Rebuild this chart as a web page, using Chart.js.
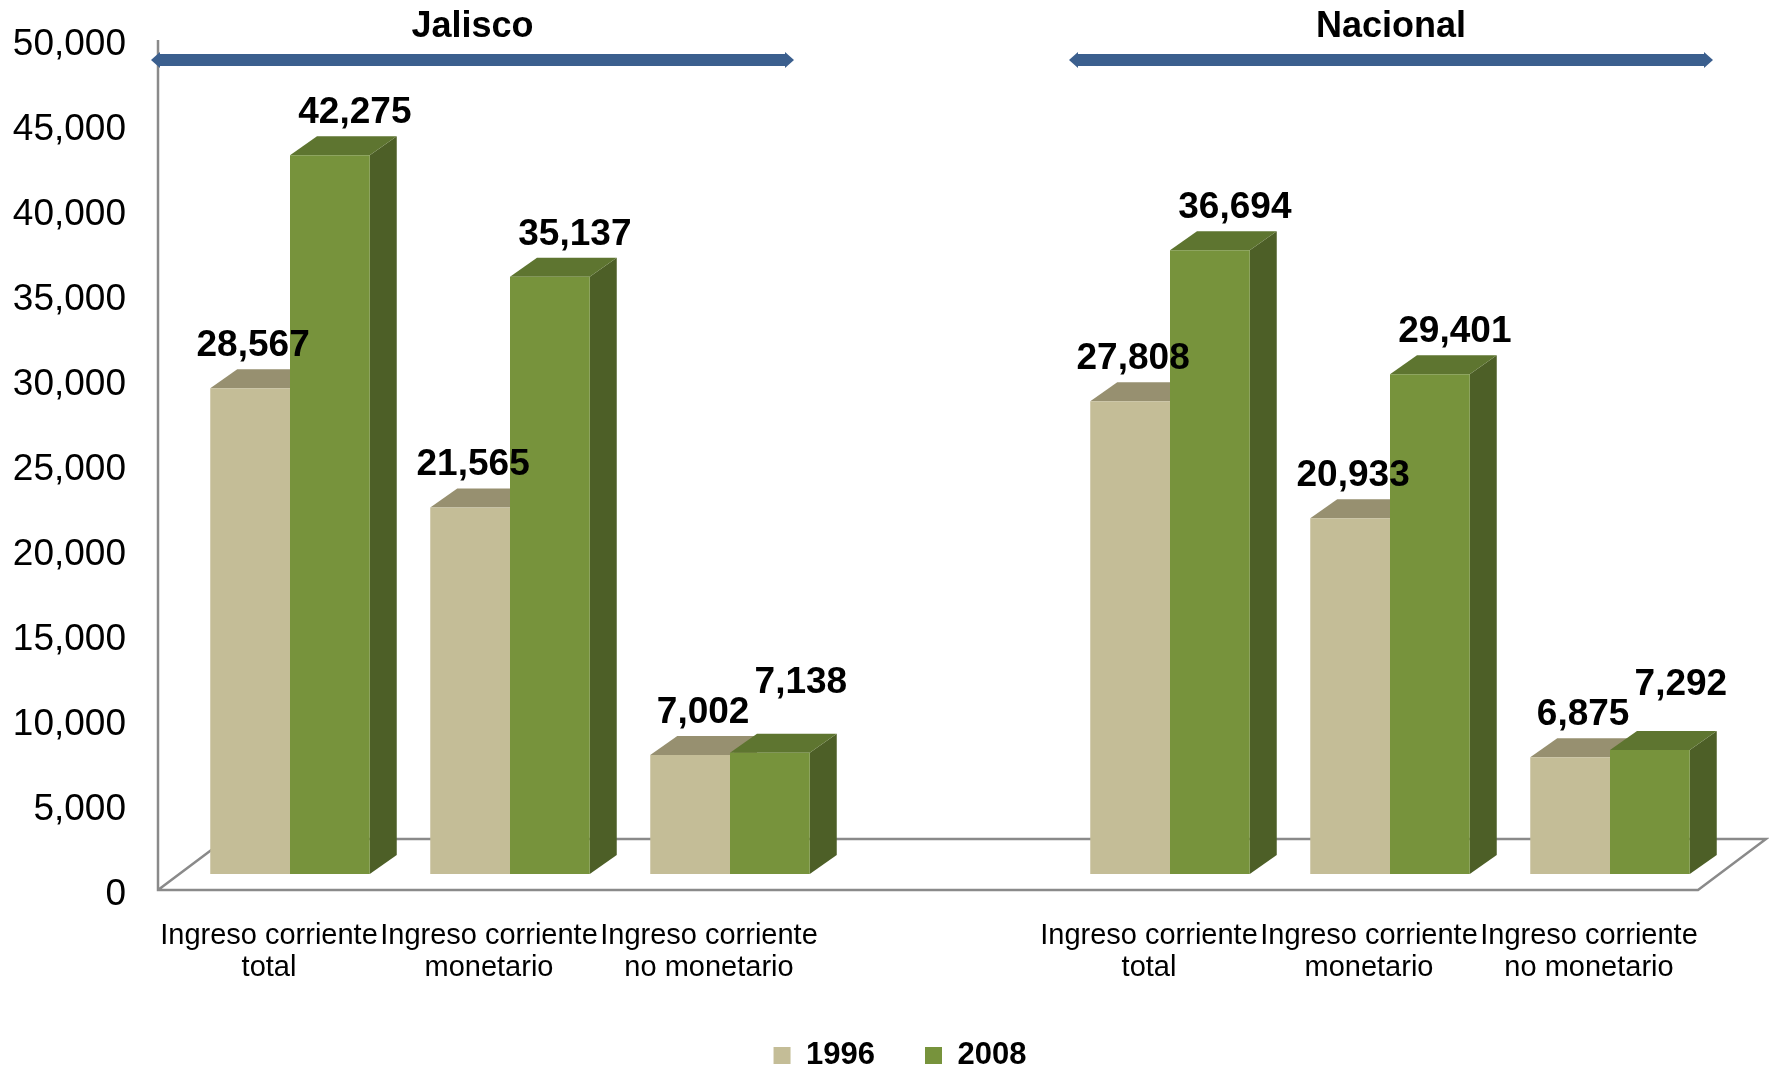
<!DOCTYPE html>
<html>
<head>
<meta charset="utf-8">
<script src="https://cdn.jsdelivr.net/npm/chart.js@4"></script>
<style>
  html, body { margin: 0; padding: 0; background: #fff; }
  #wrap { width: 1769px; height: 1068px; }
</style>
</head>
<body>
<div id="wrap"><canvas id="chart" width="1769" height="1068"></canvas></div>
<script>
// categories: three for Jalisco, an empty gap, three for Nacional
const categories = [
    ["Ingreso corriente", "total"],
    ["Ingreso corriente", "monetario"],
    ["Ingreso corriente", "no monetario"],
    "",
    ["Ingreso corriente", "total"],
    ["Ingreso corriente", "monetario"],
    ["Ingreso corriente", "no monetario"],
];
const values1996 = [28567, 21565, 7002, null, 27808, 20933, 6875];
const values2008 = [42275, 35137, 7138, null, 36694, 29401, 7292];
const yTicks = [0, 50000, 5000]; // min, max, step

const FONT = "'Liberation Sans', Arial, sans-serif";
const DX = 27, DY = -19; // depth of the 3d bars

function poly(ctx, pts) {
    ctx.beginPath();
    ctx.moveTo(pts[0][0], pts[0][1]);
    for (let i = 1; i < pts.length; i++) ctx.lineTo(pts[i][0], pts[i][1]);
    ctx.closePath();
    ctx.fill();
}

// floor, axis line, 3d faces, value labels and the two group headers
const bar3d = {
    id: "bar3d",
    afterLayout(chart) {
        // legend sits a bit right of the canvas centre in the original
        chart.legend.left += 40;
        chart.legend.right += 40;
    },
    beforeDatasetsDraw(chart) {
        const {ctx, chartArea: a} = chart;
        ctx.save();
        ctx.strokeStyle = "#8a8a8a";
        ctx.lineWidth = 2.5;
        const fx = a.left - 22, fy = a.bottom + 16;
        const fr = a.right - 22;
        ctx.beginPath();
        ctx.moveTo(fx, a.top + 16);
        ctx.lineTo(fx, fy);
        ctx.lineTo(fr, fy);
        ctx.lineTo(fr + 68, fy - 51);
        ctx.lineTo(fx + 68, fy - 51);
        ctx.lineTo(fx, fy);
        ctx.stroke();

        chart.data.datasets.forEach((ds, i) => {
            chart.getDatasetMeta(i).data.forEach((bar, j) => {
                if (ds.data[j] == null) return;
                const l = bar.x - bar.width / 2, r = bar.x + bar.width / 2;
                const t = bar.y, b = bar.base;
                ctx.fillStyle = ds.sideColor;
                poly(ctx, [[r, t], [r + DX, t + DY], [r + DX, b + DY], [r, b]]);
                ctx.fillStyle = ds.topColor;
                poly(ctx, [[l, t], [l + DX, t + DY], [r + DX, t + DY], [r, t]]);
            });
        });
        ctx.restore();
    },
    afterDatasetsDraw(chart) {
        const {ctx} = chart;
        ctx.save();
        ctx.font = "bold 37px " + FONT;
        ctx.fillStyle = "#000";
        ctx.textAlign = "center";
        ctx.textBaseline = "alphabetic";
        const m0 = chart.getDatasetMeta(0).data;
        const m1 = chart.getDatasetMeta(1).data;
        const ds0 = chart.data.datasets[0], ds1 = chart.data.datasets[1];
        m0.forEach((b0, j) => {
            const v0 = ds0.data[j], v1 = ds1.data[j];
            if (v0 == null) return;
            const b1 = m1[j];
            const t0 = v0.toLocaleString("en-US"), t1 = v1.toLocaleString("en-US");
            let x0 = b0.x + ds0.labelShift, y0 = b0.y + DY - 13;
            let x1 = b1.x + ds1.labelShift, y1 = b1.y + DY - 13;
            // push the second label up when the two would collide
            const gap = (x1 - ctx.measureText(t1).width / 2) - (x0 + ctx.measureText(t0).width / 2);
            if (gap < 30 && Math.abs(y0 - y1) < 36) {
                x0 += 10;
                x1 += 6;
                y1 = y0 - 30;
            }
            ctx.fillText(t0, x0, y0);
            ctx.fillText(t1, x1, y1);
        });
        ctx.restore();
    },
    afterDraw(chart) {
        const {ctx} = chart;
        const groups = [["Jalisco", 151, 794], ["Nacional", 1069, 1713]];
        ctx.save();
        groups.forEach(([name, x0, x1]) => {
            const y = 60;
            ctx.fillStyle = "#3b5f8e";
            ctx.beginPath();
            ctx.moveTo(x0, y);
            ctx.lineTo(x0 + 9, y - 8);
            ctx.lineTo(x0 + 9, y - 6);
            ctx.lineTo(x1 - 9, y - 6);
            ctx.lineTo(x1 - 9, y - 8);
            ctx.lineTo(x1, y);
            ctx.lineTo(x1 - 9, y + 8);
            ctx.lineTo(x1 - 9, y + 6);
            ctx.lineTo(x0 + 9, y + 6);
            ctx.lineTo(x0 + 9, y + 8);
            ctx.closePath();
            ctx.fill();
            ctx.fillStyle = "#000";
            ctx.font = "bold 36px " + FONT;
            ctx.textAlign = "center";
            ctx.textBaseline = "middle";
            ctx.fillText(name, (x0 + x1) / 2, 27);
        });
        ctx.restore();
    },
};

new Chart(document.getElementById("chart"), {
    type: "bar",
    data: {
        labels: categories,
        datasets: [
            {
                label: "1996",
                data: values1996,
                backgroundColor: "#c4bd97",
                topColor: "#979070",
                sideColor: "#8a8464",
                labelShift: 3,
                borderWidth: 0,
            },
            {
                label: "2008",
                data: values2008,
                backgroundColor: "#77933c",
                topColor: "#5e7530",
                sideColor: "#4d5f27",
                labelShift: 25,
                borderWidth: 0,
            },
        ],
    },
    options: {
        responsive: false,
        animation: false,
        layout: {
            padding: {top: 24, left: 0, right: 49, bottom: -13},
        },
        datasets: {
            bar: {categoryPercentage: 0.725, barPercentage: 1.0},
        },
        scales: {
            x: {
                grid: {display: false, drawTicks: false},
                border: {display: false},
                ticks: {
                    color: "#000",
                    font: {family: FONT, size: 29, lineHeight: 1.1},
                    padding: 46,
                    labelOffset: -21,
                    maxRotation: 0,
                    autoSkip: false,
                },
                afterFit(scale) {
                    scale.height = 116;
                },
            },
            y: {
                min: yTicks[0],
                max: yTicks[1],
                grid: {display: false, drawTicks: false},
                border: {display: false},
                ticks: {
                    stepSize: yTicks[2],
                    color: "#000",
                    font: {family: FONT, size: 37},
                    padding: 54,
                    labelOffset: 21,
                    callback: (v) => v.toLocaleString("en-US"),
                },
                afterFit(scale) {
                    scale.width = 180;
                    scale.paddingTop = 0;
                    scale.paddingBottom = 0;
                },
            },
        },
        plugins: {
            legend: {
                position: "bottom",
                labels: {
                    boxWidth: 17,
                    boxHeight: 17,
                    padding: 50,
                    color: "#000",
                    font: {family: FONT, size: 31, weight: "bold"},
                },
            },
            tooltip: {enabled: false},
        },
    },
    plugins: [bar3d],
});
</script>
</body>
</html>
